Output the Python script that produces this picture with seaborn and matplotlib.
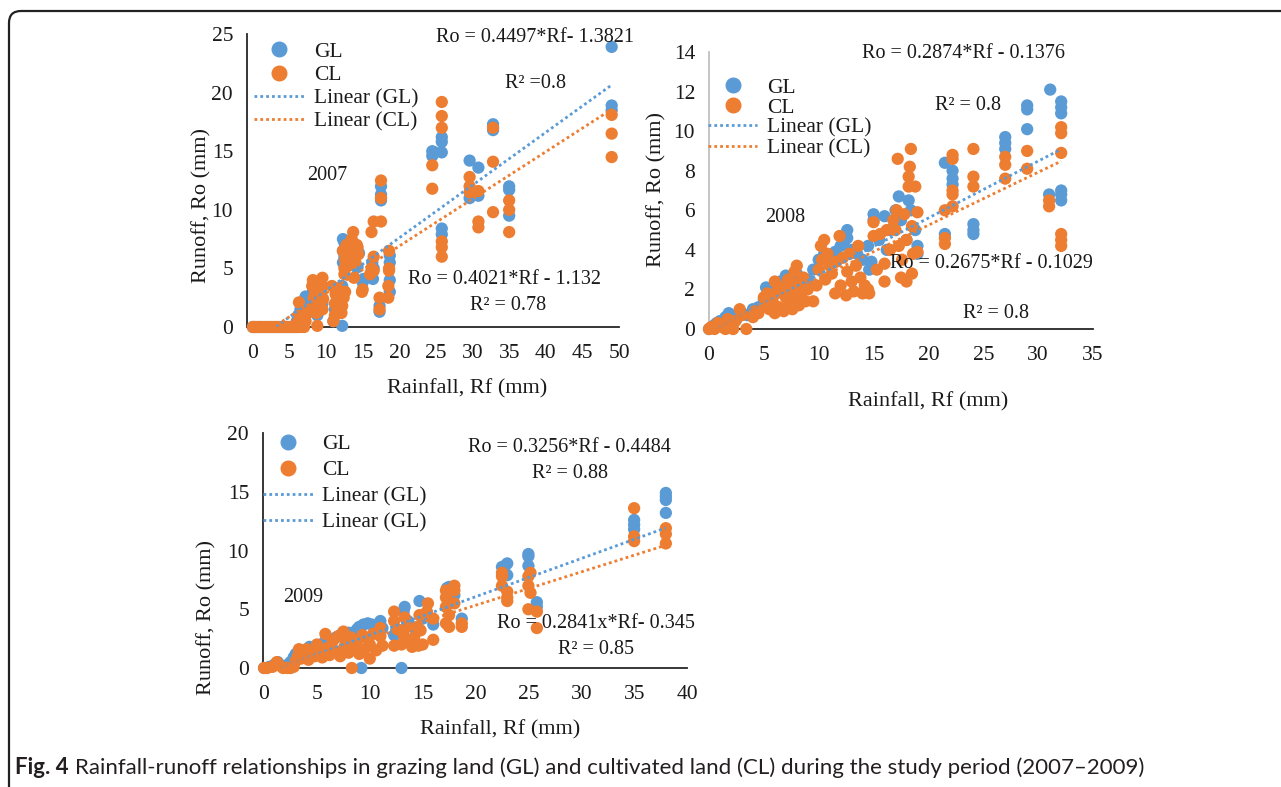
import numpy as np
import pandas as pd
import matplotlib
matplotlib.use("Agg")
import matplotlib.pyplot as plt
import seaborn as sns
from matplotlib.lines import Line2D
from matplotlib.patches import FancyBboxPatch
from matplotlib.transforms import IdentityTransform

# ---------------- data ----------------
gl07_rf = [0, 0.5, 1, 1.5, 2, 2.5, 3, 3.5, 4, 4.5, 5, 5.5, 6,
           6, 6.2, 6.5, 6.8, 7, 7.2, 7.5, 7.8,
           8, 8.2, 8.5, 8.8, 9, 9.3, 9.5,
           11, 11.2, 11.5, 11.8, 12, 12.2, 12.2, 12.3, 12.3, 12.3, 12.5, 12.5,
           13, 13.2, 13.5, 14, 14.3, 14.5, 15.1, 15,
           16.3, 16.4, 16.5,
           17.5, 17.5, 17.5, 17.3, 17.3,
           18.7, 18.7, 18.7, 18.7,
           24.5, 24.5, 24.8,
           25.8, 25.8, 25.8, 25.8, 25.8,
           29.6, 29.6, 30.8, 30.8, 32.8, 32.8,
           35, 35, 35, 49, 49, 49]
gl07_ro = [0, 0, 0, 0, 0, 0, 0, 0, 0, 0, 0, 0, 0,
           0.5, 1.0, 1.5, 1.2, 2.0, 2.6, 2.2, 1.5,
           2.5, 3.0, 2.0, 1.0, 2.5, 3.0, 2.0,
           0.5, 1.5, 2.5, 3.0, 2.0, 0.1, 3.5, 5.5, 6.5, 7.5, 7.2, 6.0,
           6.5, 5.8, 6.2, 6.5, 5.1, 6.3, 4.1, 3.8,
           5.5, 4.1, 5.0,
           12.0, 11.3, 10.8, 1.3, 1.8,
           6.1, 5.5, 4.0, 3.0,
           15.0, 14.6, 14.9,
           16.2, 15.8, 14.9, 8.4, 7.9,
           14.2, 11.0, 13.6, 11.2, 17.3, 16.8,
           12.0, 11.7, 9.5, 23.9, 18.9, 18.5]

cl07_rf = [0, 0.3, 0.8, 1.2, 1.7, 2.2, 2.7, 3.2, 3.7, 4.2, 4.7, 5.2, 5.7, 6.2, 6.6, 7,
           6, 6.3, 6.4, 6.6, 6.8, 7.2, 7.5,
           8, 8.1, 8.2, 8.3, 8.5, 8.7, 8.8, 8.8, 9.0, 9.3, 9.5, 9.5, 9.5, 9.6,
           10.8, 11, 11.2, 11.2, 11.3, 11.5, 11.5, 11.8, 12, 12.1, 12.2, 12.4, 12.6,
           12.5, 12.5, 12.6, 12.6, 12.7, 12.8, 12.3,
           13, 13.2, 13.3, 13.5, 13.7, 13.8, 13.8, 14, 14.2, 14.3, 14.4,
           15, 14.9,
           16.2, 16.5, 16.2, 16.5, 16.5, 16,
           17.5, 17.5, 17.5, 17.3, 17.3,
           18.6, 18.6, 18.6, 18.5, 18.5,
           24.5, 24.5,
           25.8, 25.8, 25.8, 25.8, 25.8, 25.8,
           29.6, 29.6, 29.6, 30.8, 30.8, 30.8,
           32.8, 32.8, 32.8, 35, 35, 35, 49, 49, 49]
cl07_ro = [0, 0, 0, 0, 0, 0, 0, 0, 0, 0, 0, 0, 0, 0, 0, 0,
           0.3, 2.1, 0.8, 0.5, 1.0, 0.5, 1.2,
           1.5, 3.5, 4.0, 2.5, 3.0, 1.2, 0.1, 3.8, 2.0, 2.8, 4.2, 3.5, 1.5, 2.4,
           3.5, 0.5, 1.0, 2.0, 2.8, 3.3, 1.5, 2.2, 3.0, 1.2, 1.8, 2.5, 3.0,
           4.5, 5.0, 5.7, 6.2, 6.8, 7.0, 6.5,
           5.2, 6.0, 6.9, 7.5, 8.1, 4.2, 6.5, 5.5, 7.0, 6.8, 6.2,
           3.2, 3.0,
           8.1, 9.0, 5.0, 4.8, 6.0, 4.5,
           12.5, 11.0, 9.0, 1.5, 2.5,
           6.5, 5.0, 4.8, 3.5, 2.5,
           13.8, 11.8,
           19.2, 18.0, 17.0, 7.3, 6.8, 6.0,
           12.8, 12.0, 11.5, 11.6, 9.0, 8.5,
           17.0, 14.1, 9.8, 10.8, 10.0, 8.1, 18.1, 16.5, 14.5]

gl08_rf = [0, 0.5, 0.7, 1, 1.5, 1.8, 2, 2.5, 3, 3.5, 4, 4.5, 5, 5.2, 5.5, 6, 6.5, 7, 7.5, 8,
           8.5, 9, 9.5, 10, 10.5, 11, 11.5, 12, 12.3, 12.6, 12.6, 13, 13.5, 14, 14.5, 14.6,
           14.8, 15, 15, 15.5, 16, 16.2, 16.5, 17, 17.3, 17.5, 18, 18.2, 18.4, 18.8, 19, 19,
           21.5, 21.5, 22.2, 22.2, 22.2, 24.1, 24.1, 24.1, 27, 27, 27, 29, 29, 29,
           31.1, 31, 32.1, 32.1, 32.1, 32.1, 32.1, 32.1]
gl08_ro = [0, 0.2, 0.3, 0.4, 0.6, 0.8, 0.7, 0.5, 0.8, 0.7, 1.0, 1.1, 1.5, 2.1, 2.0, 2.2, 2.4, 2.7, 2.5, 2.8,
           2.2, 2.5, 3.0, 3.5, 3.8, 3.6, 3.9, 4.2, 4.4, 5.0, 4.6, 4.0, 3.8, 3.5, 4.2, 3.0,
           3.4, 5.8, 5.5, 4.5, 5.7, 4.0, 5.0, 6.0, 6.7, 5.5, 4.5, 6.5, 6.0, 5.0, 4.2, 3.8,
           8.4, 4.8, 8.0, 7.6, 7.3, 5.3, 5.0, 4.8, 9.7, 9.4, 9.1, 11.3, 11.1, 10.1,
           12.1, 6.8, 11.5, 11.2, 10.9, 7.0, 6.8, 6.5]

cl08_rf = [0, 0.2, 0.5, 0.8, 1.2, 1.5, 1.7, 2, 2.2, 2.4, 2.8, 3, 3.4, 4, 4.2, 4.5,
           5, 5.1, 5.3, 5.5, 5.8, 6, 6, 6.2, 6.4, 6.6, 6.8, 7, 7.2, 7.3, 7.5, 7.6, 7.8, 7.9,
           8, 8.1, 8.2, 8.4, 8.6, 8.8, 9, 9.5, 9.8, 10, 10.2, 10.3, 10.5, 10.6, 10.8, 11,
           11.2, 11.5, 11.6, 11.9, 12, 12.2, 12.5, 12.6, 12.8, 13, 13.2, 13.4, 13.6, 13.8,
           14, 14.2, 14.5, 14.6, 15, 15, 15.3, 15.6, 16, 16, 16.2, 16.5, 16.8, 17, 17.1,
           17.2, 17.3, 17.5, 17.6, 17.8, 18, 18, 18.2, 18.2, 18.3, 18.4, 18.5, 18.5, 18.6,
           18.8, 19, 19,
           21.5, 21.5, 21.5, 22.2, 22.2, 22.2, 22.2, 22.2, 24.1, 24.1, 24.1,
           27, 27, 27, 29, 29, 31, 31, 32.1, 32.1, 32.1, 32.1, 32.1, 32.1]
cl08_ro = [0, 0.1, 0, 0.3, 0.1, 0, 0.5, 0.3, 0.0, 0.4, 1.0, 0.7, 0, 0.6, 0.9, 0.8,
           1.6, 1.2, 1.8, 1.0, 1.4, 2.4, 0.8, 1.9, 1.1, 2.1, 0.9, 1.6, 2.5, 1.2, 2.0, 1.0, 2.9, 1.5,
           3.2, 2.3, 1.2, 1.8, 2.6, 1.4, 2.0, 1.4, 2.2, 3.0, 4.2, 3.5, 4.5, 2.5, 3.8, 3.2,
           2.8, 1.8, 3.4, 4.7, 2.2, 3.6, 1.7, 2.9, 3.8, 2.4, 1.9, 3.2, 4.2, 2.6,
           1.8, 2.2, 2.0, 1.8, 5.4, 4.7, 3.0, 4.8, 2.4, 3.3, 5.0, 4.0, 5.5, 5.0, 6.0,
           8.6, 4.2, 2.6, 3.5, 5.8, 2.4, 4.5, 7.7, 7.2, 8.2, 9.1, 2.8, 5.2, 3.8,
           7.2, 5.9, 3.9,
           6.0, 4.6, 4.3, 8.8, 8.6, 7.0, 6.8, 6.2, 9.1, 7.7, 7.2,
           8.7, 8.3, 7.6, 9.0, 8.1, 6.5, 6.2, 10.2, 9.9, 8.9, 4.8, 4.5, 4.2]

gl09_rf = [0, 0.5, 1, 1.3, 2, 2.5, 2.8, 3, 3.3, 3.6, 4, 4.3, 4.7, 5, 5.3, 5.7, 6, 6.4, 6.8,
           7.2, 7.6, 8, 8.4, 8.8, 9, 9.2, 9.4, 9.8, 10.2, 10.6, 11, 11.2, 12.3, 12.5, 13,
           13.2, 13.3, 13.6, 14, 14.5, 14.7, 15, 15.4, 16, 17.3, 17.5, 17.8, 18, 18.7,
           22.5, 22.8, 23, 23, 25, 25, 25, 25.8, 25.8, 35, 35, 35, 38, 38, 38, 38]
gl09_ro = [0, 0.1, 0.3, 0.5, 0.2, 0.5, 0.9, 1.2, 1.0, 1.5, 1.4, 1.8, 1.6, 1.9, 1.7, 2.2, 2.0, 2.4, 2.6,
           2.8, 2.6, 3.0, 3.0, 3.3, 3.5, 0, 3.7, 3.8, 3.7, 3.5, 4.0, 3.4, 2.8, 3.2, 0,
           4.8, 5.2, 4.0, 3.5, 3.2, 5.7, 4.2, 4.6, 3.7, 6.8, 6.9, 6.4, 6.2, 4.2,
           8.6, 8.7, 8.9, 7.9, 9.7, 9.5, 8.7, 5.6, 5.2, 12.6, 12.2, 11.8, 14.9, 14.6, 14.3, 13.2]

cl09_rf = [0, 0.3, 0.8, 1.2, 1.5, 1.8, 2.2, 2.5, 2.8, 3, 3.2, 3.3, 3.5, 3.8, 4, 4.2, 4.5, 4.8,
           5, 5.2, 5.5, 5.8, 6, 6.2, 6.5, 6.8, 7, 7.2, 7.5, 7.6, 7.8, 8, 8.2, 8.3, 8.5, 8.8,
           9, 9.3, 9.5, 9.8, 10, 10, 10.3, 10.6, 11, 11, 11.2, 12.3, 12.3, 12.3, 12.6, 13,
           13.2, 13.3, 13.5, 13.8, 14, 14.2, 14.5, 14.6, 14.7, 14.8, 15, 15.4, 15.5, 16, 16,
           17.2, 17.2, 17.2, 17.2, 17.5, 17.5, 18, 18, 18, 18.7, 18.7,
           22.5, 22.5, 22.5, 23, 23, 23, 25, 25, 25, 25.2, 25.2, 25.8, 25.8,
           35, 35, 35, 38, 38, 38]
cl09_ro = [0, 0, 0.1, 0.5, 0.2, 0, 0, 0, 0.1, 0.6, 1.0, 1.6, 0.8, 1.2, 1.6, 0.7, 1.4, 1.0,
           2.0, 1.3, 0.9, 2.9, 1.7, 1.1, 2.3, 1.4, 2.7, 1.0, 3.1, 1.8, 2.2, 1.3, 2.6, 0, 1.7, 2.3,
           1.2, 2.8, 1.6, 2.5, 0.8, 2.0, 2.9, 1.5, 2.7, 3.4, 1.9, 4.8, 4.0, 1.9, 3.3, 2.0,
           2.8, 4.3, 3.5, 2.3, 1.8, 2.6, 3.5, 1.9, 4.5, 3.2, 2.0, 4.8, 5.5, 4.2, 2.4,
           6.6, 6.0, 5.2, 3.8, 4.5, 3.5, 7.0, 6.6, 5.5, 3.8, 3.5,
           8.1, 7.8, 7.0, 6.5, 6.0, 5.7, 7.8, 7.0, 5.0, 8.1, 6.4, 4.8, 3.4,
           13.6, 11.2, 10.8, 11.9, 11.4, 10.6]

# trendline coefficients (slope, intercept) printed on the chart
trend07 = {"GL": (0.4497, -1.3821), "CL": (0.4021, -1.132)}
trend08 = {"GL": (0.2874, -0.1376), "CL": (0.2675, -0.1029)}
trend09 = {"GL": (0.3256, -0.4484), "CL": (0.2841, -0.345)}

x_ticks07 = [0, 5, 10, 15, 20, 25, 30, 35, 40, 45, 50]
y_ticks07 = [0, 5, 10, 15, 20, 25]
x_ticks08 = [0, 5, 10, 15, 20, 25, 30, 35]
y_ticks08 = [0, 2, 4, 6, 8, 10, 12, 14]
x_ticks09 = [0, 5, 10, 15, 20, 25, 30, 35, 40]
y_ticks09 = [0, 5, 10, 15, 20]

legend07 = ["GL", "CL", "Linear (GL)", "Linear (CL)"]
legend08 = ["GL", "CL", "Linear (GL)", "Linear (CL)"]
legend09 = ["GL", "CL", "Linear (GL)", "Linear (GL)"]

caption_bold = "Fig. 4"
caption_rest = ("Rainfall-runoff relationships in grazing land (GL) and cultivated land (CL) "
                "during the study period (2007\u20132009)")

# ---------------- styling ----------------
BLUE = "#5B9BD5"
ORANGE = "#ED7D31"
W, H = 1281, 787

sns.set_style("white")
plt.rcParams["font.family"] = ["Liberation Serif", "DejaVu Serif"]
plt.rcParams["axes.unicode_minus"] = False

fig = plt.figure(figsize=(W / 100, H / 100), dpi=100)
fig.patch.set_facecolor("white")


def px_rect(left, top, right, bottom):
    return [left / W, 1 - bottom / H, (right - left) / W, (bottom - top) / H]


def panel(rect, glx, gly, clx, cly, trend, xlim, xt, ylim, yt, yaxis_color,
          leg_labels, leg_anchor, leg_spacing, leg_colors, xlab_pos, ylab_pos):
    ax = fig.add_axes(rect)
    df = pd.DataFrame({
        "Rf": glx + clx,
        "Ro": gly + cly,
        "Land": ["GL"] * len(glx) + ["CL"] * len(clx),
    })
    sns.scatterplot(data=df, x="Rf", y="Ro", hue="Land",
                    palette={"GL": BLUE, "CL": ORANGE}, s=78, linewidth=0,
                    legend=False, ax=ax, clip_on=False, zorder=3)
    for key, col, xs in (("GL", BLUE, glx), ("CL", ORANGE, clx)):
        m, b = trend[key]
        xr = np.array([min(xs), max(xs)])
        ax.plot(xr, m * xr + b, color=col, lw=2.0, ls=(0, (1, 1.1)), zorder=4)
    ax.set_xlim(*xlim)
    ax.set_ylim(*ylim)
    ax.set_xticks(xt)
    ax.set_yticks(yt)
    ax.set_xticklabels([str(v) for v in xt])
    ax.set_yticklabels([str(v) for v in yt])
    sns.despine(ax=ax)
    ax.spines["bottom"].set_color("#262626")
    ax.spines["bottom"].set_linewidth(1.3)
    ax.spines["left"].set_color(yaxis_color)
    ax.spines["left"].set_linewidth(1.3)
    ax.tick_params(axis="x", direction="out", length=6, width=1.2, color="#262626",
                   labelsize=15.5, pad=6, labelcolor="#1a1a1a")
    ax.tick_params(axis="y", direction="out", length=6, width=1.2, color=yaxis_color,
                   labelsize=15.5, pad=4, labelcolor="#1a1a1a")
    ax.set_xlabel("Rainfall, Rf (mm)", fontsize=16, color="#1a1a1a")
    ax.set_ylabel("Runoff, Ro (mm)", fontsize=16, color="#1a1a1a")
    ax.xaxis.set_label_coords(*xlab_pos)
    ax.yaxis.set_label_coords(*ylab_pos)
    ax.xaxis.label.set_va("center")
    ax.yaxis.label.set_va("center")
    ax.yaxis.label.set_ha("center")
    ax.set_facecolor("none")
    handles = [
        Line2D([], [], marker="o", color=BLUE, ls="none", markersize=10.5),
        Line2D([], [], marker="o", color=ORANGE, ls="none", markersize=10.5),
        Line2D([], [], color=leg_colors[0], lw=2.0, ls=(0, (1, 1.1))),
        Line2D([], [], color=leg_colors[1], lw=2.0, ls=(0, (1, 1.1))),
    ]
    ax.legend(handles, leg_labels, loc="upper left", bbox_to_anchor=leg_anchor,
              frameon=False, fontsize=15.5, labelspacing=leg_spacing,
              handlelength=2.3, handletextpad=0.45, borderpad=0,
              borderaxespad=0, labelcolor="#1a1a1a")
    return ax


ax1 = panel(px_rect(247, 34, 619, 327), gl07_rf, gl07_ro, cl07_rf, cl07_ro, trend07,
            (-0.8, 50), x_ticks07, (0, 25), y_ticks07, "#262626",
            legend07, (0.02, 0.973), 0.15, (BLUE, ORANGE),
            (0.591, -0.212), (-0.122, 0.416))
ax2 = panel(px_rect(709, 52, 1093, 329), gl08_rf, gl08_ro, cl08_rf, cl08_ro, trend08,
            (0, 35), x_ticks08, (0, 14), y_ticks08, "#BFBFBF",
            legend08, (-0.003, 0.907), 0.0, (BLUE, ORANGE),
            (0.570, -0.264), (-0.136, 0.502))
ax3 = panel(px_rect(263, 433, 687, 668), gl09_rf, gl09_ro, cl09_rf, cl09_ro, trend09,
            (-0.1, 40), x_ticks09, (0, 20), y_ticks09, "#262626",
            legend09, (0.0, 0.994), 0.27, (BLUE, BLUE),
            (0.559, -0.264), (-0.132, 0.213))

# equation annotations (left x, centre y in pixels)
notes = [
    ("Ro = 0.4497*Rf- 1.3821", 436, 38),
    ("R\u00b2 =0.8", 505, 83),
    ("2007", 307, 175),
    ("Ro = 0.4021*Rf - 1.132", 408, 280),
    ("R\u00b2 = 0.78", 470, 305),
    ("Ro = 0.2874*Rf - 0.1376", 862, 53),
    ("R\u00b2 = 0.8", 935, 105),
    ("2008", 765, 218),
    ("Ro = 0.2675*Rf - 0.1029", 890, 263),
    ("R\u00b2 = 0.8", 963, 313),
    ("Ro = 0.3256*Rf - 0.4484", 468, 448),
    ("R\u00b2 = 0.88", 532, 474),
    ("2009", 283, 598),
    ("Ro = 0.2841x*Rf- 0.345", 497, 624),
    ("R\u00b2 = 0.85", 558, 650),
]
for txt, x, y in notes:
    fig.text(x / W, 1 - y / H, txt, fontsize=14.5, ha="left", va="center",
             color="#1a1a1a", zorder=10)

# rounded frame (top and left edges visible)
frame = FancyBboxPatch((9, -30), 1500, H - 11 + 30,
                       boxstyle="round,pad=0,rounding_size=12",
                       transform=IdentityTransform(), fill=False,
                       edgecolor="#222222", linewidth=1.6)
fig.add_artist(frame)

# caption
t1 = fig.text(15 / W, 1 - 768 / H, caption_bold, fontsize=16, fontweight="bold",
              family=["Lato", "DejaVu Sans"], ha="left", va="center", color="#231f20")
renderer = fig.canvas.get_renderer()
bb = t1.get_window_extent(renderer=renderer)
fig.text((bb.x1 + 6) / W, 1 - 768 / H, caption_rest, fontsize=16,
         family=["Lato", "DejaVu Sans"], ha="left", va="center", color="#231f20")

fig.savefig("out.png", dpi=100, facecolor="white")
